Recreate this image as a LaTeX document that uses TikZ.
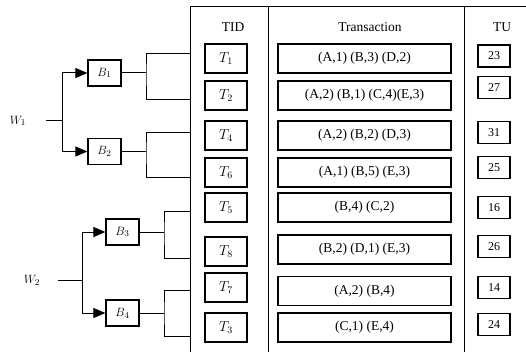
\documentclass[tikz,border=0pt]{standalone}
\usepackage{fontspec}
\setmainfont{Liberation Serif}
\usetikzlibrary{arrows.meta}

\begin{document}
\begin{tikzpicture}[x=1pt,y=-1pt,line width=1pt,
    bbox/.style={draw,line width=1.2pt,minimum width=33pt,minimum height=26pt,inner sep=0pt,font=\fontsize{13}{15}\selectfont},
    tbox/.style={draw,line width=1.2pt,minimum width=42pt,minimum height=29pt,inner sep=0pt,font=\fontsize{14}{16}\selectfont},
    trbox/.style={draw,line width=1.2pt,minimum width=173pt,minimum height=29pt,inner sep=0pt,font=\fontsize{13.5}{16}\selectfont},
    tubox/.style={draw,line width=1.2pt,minimum width=32pt,minimum height=22pt,inner sep=0pt,font=\fontsize{12}{14}\selectfont},
    head/.style={font=\fontsize{13.5}{16}\selectfont},
    arr/.style={-{Triangle[length=12pt,width=10pt]}}]
      \useasboundingbox (0,0) rectangle (526,352);
      \draw (190,352) -- (190,7) -- (526,7);
      \draw (268,7) -- (268,352);
      \draw (464,7) -- (464,352);
      \node[head] (htid) at (233,27) {TID};
      \node[head] (htr) at (370,27) {Transaction};
      \node[head] (htu) at (502,27) {TU};
      \node[tbox] (t1) at (226,58.5) {$T_1$};
      \node[tbox] (t2) at (226,95.5) {$T_2$};
      \node[tbox] (t4) at (226,135.5) {$T_4$};
      \node[tbox] (t6) at (226,172.5) {$T_6$};
      \node[tbox] (t5) at (226,207.5) {$T_5$};
      \node[tbox] (t8) at (226,251.5) {$T_8$};
      \node[tbox] (t7) at (226,287.5) {$T_7$};
      \node[tbox] (t3) at (226,327.5) {$T_3$};
      \node[trbox] (r1) at (364.5,58.5) {(A,1) (B,3) (D,2)};
      \node[trbox] (r2) at (364.5,95.5) {(A,2) (B,1) (C,4)(E,3)};
      \node[trbox] (r4) at (364.5,135.5) {(A,2) (B,2) (D,3)};
      \node[trbox] (r6) at (364.5,172.5) {(A,1) (B,5) (E,3)};
      \node[trbox] (r5) at (364.5,207.5) {(B,4) (C,2)};
      \node[trbox] (r8) at (364.5,249.5) {(B,2) (D,1) (E,3)};
      \node[trbox] (r7) at (364.5,291) {(A,2) (B,4)};
      \node[trbox] (r3) at (364.5,327.5) {(C,1) (E,4)};
      \node[tubox] (u1) at (494,56) {23};
      \node[tubox] (u2) at (494,87.5) {27};
      \node[tubox] (u4) at (494,132.5) {31};
      \node[tubox] (u6) at (494,167.5) {25};
      \node[tubox] (u5) at (494,207.5) {16};
      \node[tubox] (u8) at (494,246.5) {26};
      \node[tubox] (u7) at (494,287.5) {14};
      \node[tubox] (u3) at (494,324.5) {24};
      \node[font=\fontsize{13}{15}\selectfont] (w1) at (18,121) {$W_1$};
      \node[font=\fontsize{13}{15}\selectfont] (w2) at (32,280) {$W_2$};
      \node[bbox] (b1) at (104.5,73) {$B_1$};
      \node[bbox] (b2) at (104.5,151.5) {$B_2$};
      \node[bbox] (b3) at (122.5,232) {$B_3$};
      \node[bbox] (b4) at (122.5,313) {$B_4$};
      \coordinate (s1) at (62,121);
      \coordinate (s2) at (82,280);
      \draw ([xshift=16pt]w1.east) -- (s1);
      \draw ([xshift=14pt]w2.east) -- (s2);
      \draw[arr] (s1) |- (b1.west);
      \draw[arr] (s1) |- (b2.west);
      \draw[arr] (s2) |- (b3.west);
      \draw[arr] (s2) |- (b4.west);
      \coordinate (k1) at (146,73);
      \coordinate (k2) at (146,151.5);
      \coordinate (k3) at (164,232);
      \coordinate (k4) at (164,313);
      \coordinate (f1) at (190,54);
      \coordinate (f2) at (190,100);
      \coordinate (f3) at (190,133);
      \coordinate (f4) at (190,178);
      \coordinate (f5) at (190,212);
      \coordinate (f6) at (190,258);
      \coordinate (f7) at (190,290);
      \coordinate (f8) at (190,336);
      \draw (b1.east) -- (k1);
      \draw (f1) -| (k1) |- (f2);
      \draw (b2.east) -- (k2);
      \draw (f3) -| (k2) |- (f4);
      \draw (b3.east) -- (k3);
      \draw (f5) -| (k3) |- (f6);
      \draw (b4.east) -- (k4);
      \draw (f7) -| (k4) |- (f8);
    \end{tikzpicture}
\end{document}
